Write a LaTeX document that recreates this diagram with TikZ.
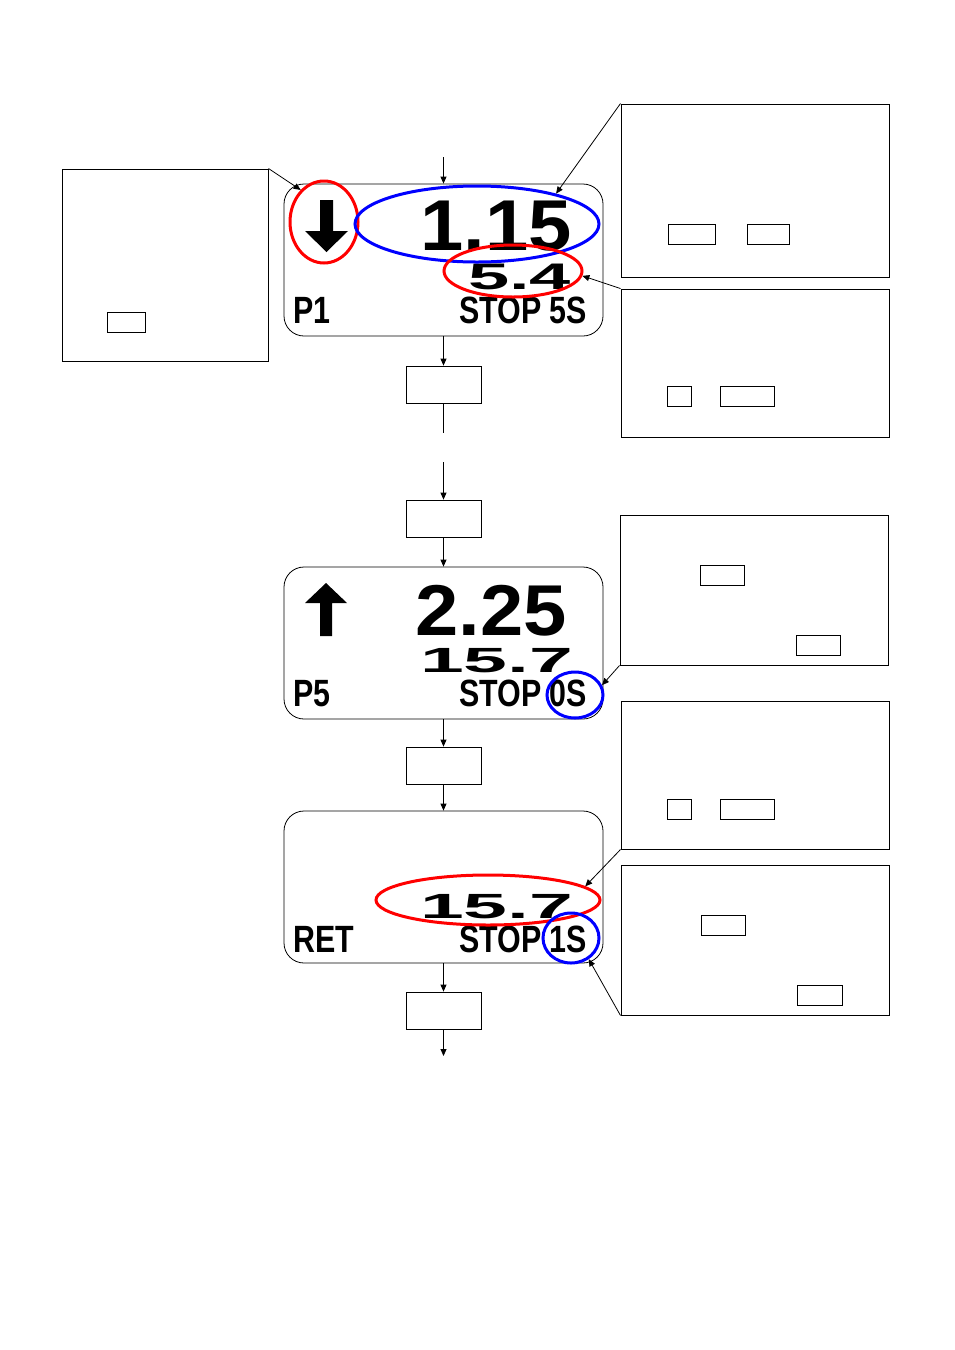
\documentclass[tikz,border=0pt]{standalone}
\usepackage{fontspec}
\newfontfamily\lcdcond[FakeStretch=0.8]{Liberation Sans}
\newfontfamily\lcdbig[FakeStretch=1.08]{Liberation Sans}
\newfontfamily\lcdwide[FakeStretch=2.0]{Liberation Sans}
\newfontfamily\lcdwider[FakeStretch=2.25]{Liberation Sans}
\usetikzlibrary{arrows.meta, shapes.geometric}

\begin{document}
\begin{tikzpicture}[
  x=1pt, y=-1pt,
  display/.style={draw, rounded corners=20pt, line width=0.8pt,
    minimum width=319pt, minimum height=152pt, inner sep=0},
  stepbox/.style={draw, line width=0.8pt, minimum width=75pt, minimum height=37pt, inner sep=0},
  note/.style={draw, line width=1pt, inner sep=0},
  keybox/.style={draw, line width=0.7pt, inner sep=0, minimum height=20pt},
  redring/.style={ellipse, draw=red, line width=3pt, inner sep=0},
  bluering/.style={ellipse, draw=blue, line width=3pt, inner sep=0},
  lcd/.style={inner sep=0, anchor=base west, text height=27pt, text depth=0pt,
    font=\lcdcond\bfseries\fontsize{38}{38}\selectfont},
  bignum/.style={inner sep=0, anchor=base west, text height=52pt, text depth=0pt,
    font=\lcdbig\bfseries\fontsize{72}{72}\selectfont},
  smallnum/.style={inner sep=0, anchor=base west, text height=26pt, text depth=0pt,
    font=\lcdwide\bfseries\fontsize{37}{37}\selectfont},
  widenum/.style={smallnum, text height=25pt, font=\lcdwider\bfseries\fontsize{35}{35}\selectfont},
  flow/.style={-{Triangle[length=7pt,width=6pt]}, line width=0.8pt},
  callout/.style={-{Triangle[length=7pt,width=6pt]}, line width=0.8pt},
]
\useasboundingbox (0,0) rectangle (955,1350);

% Display screens and step boxes down the middle
\node[display] (disp1) at (443.5,260) {};
\node[display] (disp2) at (443.5,643) {};
\node[display] (disp3) at (443.5,887) {};
\node[stepbox] (sA) at (443.5,384.5) {};
\node[stepbox] (sB) at (443.5,518.5) {};
\node[stepbox] (sC) at (443.5,765.5) {};
\node[stepbox] (sD) at (443.5,1010.5) {};
\coordinate (flowin)  at (443.5,157);
\coordinate (gapA)    at (443.5,433);
\coordinate (gapB)    at (443.5,462);
\coordinate (flowout) at (443.5,1056);

% Screen 1
\fill (320,200) -- (333,200) -- (333,231) -- (348,231) -- (326.5,252) -- (305,231) -- (320,231) -- cycle;
\node[bignum]   (val1)  at (420,250) {1.15};
\node[smallnum] (tot1)  at (468,289) {5.4};
\node[lcd]      (p1)    at (293,323) {P1};
\node[lcd]      (stop1) at (459,323) {STOP 5S};

% Screen 2
\fill (326,583) -- (347,603) -- (332,603) -- (332,636) -- (320,636) -- (320,603) -- (305,603) -- cycle;
\node[bignum]   (val2)  at (415,635) {2.25};
\node[widenum]  (tot2)  at (420,672) {15.7};
\node[lcd]      (p5)    at (293,706) {P5};
\node[lcd]      (stop2) at (459,706) {STOP 0S};

% Screen 3
\node[widenum]  (tot3)  at (420,918) {15.7};
\node[lcd]      (ret)   at (293,952) {RET};
\node[lcd]      (stop3) at (459,952) {STOP 1S};

% Highlight rings
\node[redring,  minimum width=68pt,  minimum height=82pt] (redarr)  at (324,222) {};
\node[bluering, minimum width=244pt, minimum height=76pt] (blueval) at (477,224) {};
\node[redring,  minimum width=138pt, minimum height=52pt] (redtot)  at (513,271) {};
\node[bluering, minimum width=56pt,  minimum height=46pt] (bluet2)  at (575,695) {};
\node[redring,  minimum width=224pt, minimum height=50pt] (redtot3) at (488,900) {};
\node[bluering, minimum width=56pt,  minimum height=50pt] (bluet3)  at (571,938) {};

% Note boxes with their key boxes
\node[note, minimum width=206pt, minimum height=192pt] (lnote) at (165,265) {};
\node[keybox, minimum width=38pt] (lkey) at (126,322.5) {};

\node[note, minimum width=268pt, minimum height=173pt] (noteA) at (755,190.5) {};
\node[keybox, minimum width=47pt] (keyA1) at (691.5,234) {};
\node[keybox, minimum width=42pt] (keyA2) at (768,234) {};

\node[note, minimum width=268pt, minimum height=148pt] (noteB) at (755,363) {};
\node[keybox, minimum width=24pt] (keyB1) at (679,396) {};
\node[keybox, minimum width=54pt] (keyB2) at (747,396) {};

\node[note, minimum width=268pt, minimum height=150pt] (noteC) at (754,590) {};
\node[keybox, minimum width=44pt] (keyC1) at (722,575) {};
\node[keybox, minimum width=44pt] (keyC2) at (818,645) {};

\node[note, minimum width=268pt, minimum height=148pt] (noteD) at (755,775) {};
\node[keybox, minimum width=24pt] (keyD1) at (679,809) {};
\node[keybox, minimum width=54pt] (keyD2) at (747,809) {};

\node[note, minimum width=268pt, minimum height=150pt] (noteE) at (755,940) {};
\node[keybox, minimum width=44pt] (keyE1) at (723,925) {};
\node[keybox, minimum width=45pt] (keyE2) at (819.5,995) {};

% Flow down the middle
\draw[flow] (flowin) -- (disp1);
\draw[flow] (disp1) -- (sA);
\draw[line width=0.8pt] (sA) -- (gapA);
\draw[flow] (gapB) -- (sB);
\draw[flow] (sB) -- (disp2);
\draw[flow] (disp2) -- (sC);
\draw[flow] (sC) -- (disp3);
\draw[flow] (disp3) -- (sD);
\draw[flow] (sD) -- (flowout);

% Callouts from the notes
\draw[callout] (lnote.north east) -- (redarr.126);
\draw[callout] (noteA.north west) -- (blueval.21);
\draw[callout] (noteB.north west) -- (redtot.-4);
\draw[callout] (noteC.south west) -- (bluet2.20);
\draw[callout] (noteD.south west) -- (redtot3.8);
\draw[callout] (noteE.south west) -- (bluet3.-50);
\end{tikzpicture}
\end{document}
